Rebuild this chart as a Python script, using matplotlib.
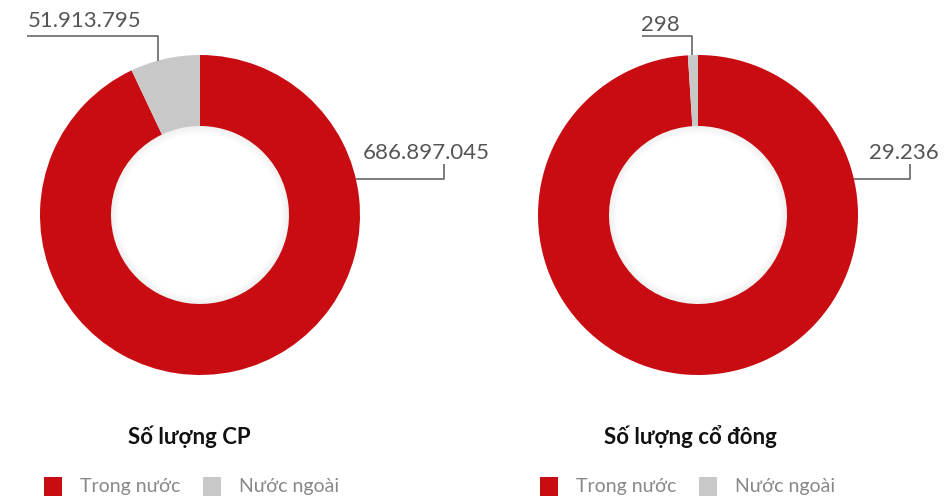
import numpy as np
import matplotlib
matplotlib.use("Agg")
import matplotlib.pyplot as plt
from matplotlib.patches import Rectangle, Wedge

# Data
titles = ["Số lượng CP", "Số lượng cổ đông"]
categories = ["Trong nước", "Nước ngoài"]
so_luong_cp = [686897045, 51913795]
so_luong_co_dong = [29236, 298]
series = [so_luong_cp, so_luong_co_dong]

colors = ["#C80C12", "#C8C8C8"]
W, H = 953, 502

plt.rcParams["font.family"] = ["Lato", "DejaVu Sans"]

fig = plt.figure(figsize=(W / 100, H / 100), dpi=100)
ax = fig.add_axes([0, 0, 1, 1])


def fmt(v):
    return f"{v:,}".replace(",", ".")


centers_x = [200, 698]
cy = H - 216
R_OUT, R_IN = 160, 89
line_c = "#666666"
text_c = "#555555"

for i, (vals, cx) in enumerate(zip(series, centers_x)):
    wedges, _ = ax.pie(vals, colors=colors, startangle=90, counterclock=False,
                       radius=R_OUT, center=(cx, cy),
                       wedgeprops=dict(width=R_OUT - R_IN, edgecolor="none"))
    # soft inner shadow around the hole
    for k in range(8):
        ax.add_patch(Wedge((cx, cy), R_IN - k, 0, 360, width=1.0,
                           facecolor="#000000", alpha=0.06 * (1 - k / 8),
                           edgecolor="none"))

    # leader for the small (foreign) slice, anchored inside the slice
    w = wedges[1]
    a = np.deg2rad(w.theta1 + 0.6 * (w.theta2 - w.theta1))
    px = cx + R_OUT * np.cos(a)
    py = cy + R_OUT * np.sin(a)
    ly = H - 37
    ax.plot([px, px, cx - 173 if i == 0 else cx - 56], [py, ly, ly],
            color=line_c, lw=1.2, solid_capstyle="butt")
    ax.text(cx - 172 if i == 0 else cx - 57, H - 27 if i == 0 else H - 31,
            fmt(vals[1]), fontsize=16, color=text_c, ha="left", va="baseline")

    # leader for the large (domestic) slice
    ang = np.deg2rad(90 - 77)
    bx = cx + R_OUT * np.cos(ang)
    by = cy + R_OUT * np.sin(ang)
    ex = cx + (244 if i == 0 else 212)
    ax.plot([bx, ex, ex], [by, by, H - 165], color=line_c, lw=1.2,
            solid_capstyle="butt")
    ax.text(cx + 163 if i == 0 else cx + 171, H - 159, fmt(vals[0]),
            fontsize=16, color=text_c, ha="left", va="baseline")

    # title
    ax.text(cx - 11 if i == 0 else cx - 8, H - 437, titles[i], fontsize=16,
            fontweight="bold", color="#111111", ha="center", va="center")

    # legend
    lx = cx - 156 if i == 0 else cx - 158
    offs = [0, 159]
    for j, (lab, col) in enumerate(zip(categories, colors)):
        x0 = lx + offs[j]
        ax.add_patch(Rectangle((x0, H - 497), 18, 19, facecolor=col,
                               edgecolor="none"))
        ax.text(x0 + 36, H - 487, lab, fontsize=14, color="#888888",
                ha="left", va="center")

# pixel-space canvas (set after pie, which overrides limits)
ax.set_xlim(0, W)
ax.set_ylim(0, H)
ax.set_aspect("equal")
ax.axis("off")

fig.savefig("out.png", dpi=100)
